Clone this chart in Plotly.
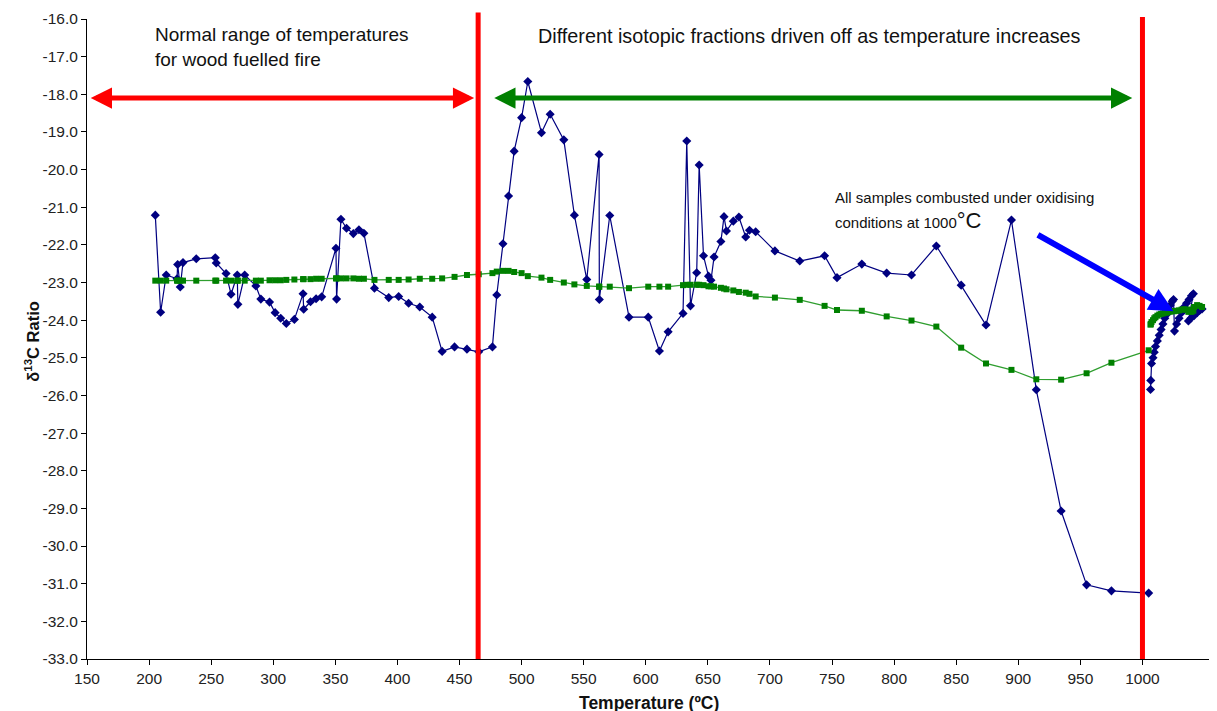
import plotly.graph_objects as go

# ---------------- data ----------------
temperature = [205.0, 209.3, 213.8, 222.5, 223.0, 225.1, 227.3, 238.0, 253.3, 254.1,
               262.0, 266.0, 271.0, 271.5, 277.0, 286.0, 290.0, 297.0, 301.5, 306.0,
               310.5, 317.0, 324.0, 324.5, 330.0, 334.5, 339.0, 350.5, 351.0, 354.5,
               359.0, 364.5, 369.0, 373.0, 381.5, 393.0, 401.0, 409.0, 418.0, 428.0,
               436.0, 446.0, 456.0, 465.5, 476.5, 480.0, 485.0, 489.5, 494.0, 500.0,
               505.0, 516.0, 523.0, 534.0, 542.5, 552.5, 562.4, 562.6, 571.0, 586.5,
               602.0, 611.0, 618.0, 630.0, 633.0, 636.0, 641.0, 643.0, 646.5, 650.5,
               652.5, 655.0, 660.5, 663.0, 665.0, 670.5, 675.0, 680.5, 683.5, 688.5,
               704.0, 724.0, 744.0, 754.0, 774.0, 794.0, 814.0, 834.0, 854.0, 874.0,
               894.5, 914.5, 934.5, 955.0, 975.0, 1005.0]

d13c_sample = [-21.21, -23.79, -22.80, -22.90, -22.52, -23.12, -22.47, -22.37, -22.34, -22.48,
               -22.76, -23.31, -22.80, -23.58, -22.80, -23.09, -23.44, -23.52, -23.80, -23.95,
               -24.09, -23.98, -23.30, -23.71, -23.51, -23.43, -23.38, -22.09, -23.44, -21.32,
               -21.56, -21.70, -21.60, -21.69, -23.15, -23.40, -23.37, -23.55, -23.65, -23.92,
               -24.83, -24.71, -24.77, -24.84, -24.71, -23.33, -21.97, -20.70, -19.51, -18.62,
               -17.66, -19.02, -18.53, -19.21, -21.21, -22.92, -19.60, -23.45, -21.22, -23.92,
               -23.92, -24.82, -24.31, -23.82, -19.24, -23.62, -22.74, -19.88, -22.29, -22.83,
               -22.94, -22.32, -21.91, -21.25, -21.63, -21.37, -21.26, -21.79, -21.61, -21.65,
               -22.16, -22.43, -22.29, -22.87, -22.51, -22.75, -22.80, -22.03, -23.07, -24.13,
               -21.34, -25.85, -29.07, -31.03, -31.19, -31.25]

d13c_mean = [-22.95, -22.95, -22.95, -22.95, -22.95, -22.95, -22.95, -22.95, -22.95, -22.95,
             -22.95, -22.95, -22.95, -22.95, -22.95, -22.95, -22.95, -22.94, -22.94, -22.94,
             -22.93, -22.92, -22.91, -22.91, -22.91, -22.90, -22.90, -22.89, -22.89, -22.89,
             -22.89, -22.89, -22.90, -22.90, -22.93, -22.93, -22.93, -22.92, -22.90, -22.90,
             -22.89, -22.85, -22.80, -22.78, -22.75, -22.71, -22.69, -22.69, -22.72, -22.75,
             -22.83, -22.87, -22.93, -23.00, -23.05, -23.09, -23.11, -23.11, -23.11, -23.15,
             -23.11, -23.11, -23.11, -23.07, -23.06, -23.06, -23.06, -23.06, -23.07, -23.10,
             -23.10, -23.11, -23.14, -23.16, -23.18, -23.21, -23.25, -23.27, -23.30, -23.37,
             -23.40, -23.46, -23.62, -23.73, -23.75, -23.90, -24.01, -24.17, -24.73, -25.15,
             -25.32, -25.57, -25.58, -25.41, -25.13, -24.80]

# samples combusted at 1000 degC (cluster right of the 1000 line)
temperature_1000 = [1006.5, 1006.7, 1007.3, 1008.5, 1009.5, 1010.5, 1012.0, 1013.5, 1015.0, 1016.5,
                    1018.0, 1019.5, 1021.0, 1022.5, 1024.0, 1025.0, 1025.8, 1027.5, 1029.5, 1031.5,
                    1033.5, 1035.5, 1037.5, 1039.5, 1041.0, 1037.0, 1039.0, 1041.5, 1044.0, 1046.0,
                    1048.0]
d13c_sample_1000 = [-25.84, -25.60, -25.15, -25.00, -24.85, -24.70, -24.55, -24.40, -24.25, -24.10,
                    -23.95, -23.85, -23.70, -23.60, -23.50, -23.45, -24.29, -24.10, -23.95, -23.80,
                    -23.65, -23.55, -23.45, -23.35, -23.30, -24.02, -23.95, -23.88, -23.80, -23.74,
                    -23.70]
d13c_mean_1000 = [-24.12, -24.10, -24.05, -24.00, -23.95, -23.92, -23.88, -23.85, -23.83, -23.82,
                  -23.80, -23.80, -23.78, -23.77, -23.76, -23.76, -23.76, -23.75, -23.74, -23.72,
                  -23.71, -23.72, -23.75, -23.78, -23.75, -23.78, -23.72, -23.65, -23.60, -23.62,
                  -23.65]

x_ticks = [150, 200, 250, 300, 350, 400, 450, 500, 550, 600, 650, 700, 750, 800, 850, 900, 950, 1000]
y_ticks = [-16, -17, -18, -19, -20, -21, -22, -23, -24, -25, -26, -27, -28, -29, -30, -31, -32, -33]
y_tick_labels = [f"{v:.1f}" for v in y_ticks]   # plain hyphen-minus, as in the reference

# ---------------- figure ----------------
NAVY = "#000080"
GREEN = "#008000"
GREEN_LINE = "#2f9e2f"
RED = "#ff0000"
FONT = "Liberation Sans, Arial, sans-serif"
TXT = "#111111"

fig = go.Figure()

fig.add_trace(go.Scatter(
    x=temperature + [None] + temperature_1000,
    y=d13c_sample + [None] + d13c_sample_1000,
    mode="lines+markers",
    line=dict(color=NAVY, width=1.2),
    marker=dict(symbol="diamond", size=7, color=NAVY),
    showlegend=False, hoverinfo="x+y"))

fig.add_trace(go.Scatter(
    x=temperature + [None] + temperature_1000,
    y=d13c_mean + [None] + d13c_mean_1000,
    mode="lines+markers",
    line=dict(color=GREEN_LINE, width=1.3),
    marker=dict(symbol="square", size=6, color=GREEN),
    showlegend=False, hoverinfo="x+y"))

# red vertical lines
fig.add_shape(type="line", xref="x", yref="paper", x0=465, x1=465, y0=0, y1=1.01,
              line=dict(color=RED, width=5), layer="above")
fig.add_shape(type="line", xref="x", yref="paper", x0=1000, x1=1000, y0=0, y1=1.003,
              line=dict(color=RED, width=5), layer="above")

# double arrows
fig.add_annotation(x=153, y=-18.1, ax=463, ay=-18.1, xref="x", yref="y", axref="x", ayref="y",
                   text="", showarrow=True, arrowhead=2, startarrowhead=2, arrowside="end+start",
                   arrowwidth=5, arrowsize=0.85, startarrowsize=0.85, arrowcolor=RED)
fig.add_annotation(x=478, y=-18.1, ax=993, ay=-18.1, xref="x", yref="y", axref="x", ayref="y",
                   text="", showarrow=True, arrowhead=2, startarrowhead=2, arrowside="end+start",
                   arrowwidth=5, arrowsize=0.85, startarrowsize=0.85, arrowcolor=GREEN)
# blue arrow
fig.add_annotation(x=1025, y=-23.76, ax=914.6, ay=-21.71, xref="x", yref="y", axref="x", ayref="y",
                   text="", showarrow=True, arrowhead=2, arrowwidth=6, arrowsize=0.8,
                   arrowcolor="#0000ff")

# texts
fig.add_annotation(x=203, y=-16.08, xref="x", yref="y", xanchor="left", yanchor="top",
                   text="Normal range of temperatures<br>for wood fuelled fire", showarrow=False,
                   align="left", font=dict(family=FONT, size=19, color=TXT))
fig.add_annotation(x=511.5, y=-16.1, xref="x", yref="y", xanchor="left", yanchor="top",
                   text="Different isotopic fractions driven off as temperature increases",
                   showarrow=False, align="left", font=dict(family=FONT, size=19.8, color=TXT))
fig.add_annotation(x=751, y=-20.75, xref="x", yref="y", xanchor="left", yanchor="middle",
                   text="All samples combusted under oxidising",
                   showarrow=False, align="left", font=dict(family=FONT, size=15, color=TXT))
fig.add_annotation(x=751, y=-21.36, xref="x", yref="y", xanchor="left", yanchor="middle",
                   text="conditions at 1000<span style='font-size:22px'>°C</span>",
                   showarrow=False, align="left", font=dict(family=FONT, size=15, color=TXT))

# axis titles
fig.add_annotation(x=0.4996, y=-0.068, xref="paper", yref="paper", xanchor="center", yanchor="middle",
                   text="<b>Temperature (ºC)</b>", showarrow=False,
                   font=dict(family=FONT, size=17.5, color=TXT))
fig.add_annotation(x=-0.049, y=0.497, xref="paper", yref="paper", xanchor="center", yanchor="middle",
                   text="<b>δ<sup>13</sup>C Ratio</b>", showarrow=False, textangle=-90,
                   font=dict(family=FONT, size=16.5, color=TXT))

fig.update_layout(
    width=1217, height=711,
    margin=dict(l=79, r=13, t=11, b=60, autoexpand=False),
    paper_bgcolor="white", plot_bgcolor="white",
    font=dict(family=FONT, size=14, color="#222222"),
    xaxis=dict(range=[150, 1056], tickvals=x_ticks, ticks="outside", ticklen=5,
               tickcolor="black", showline=True, linecolor="black", linewidth=1,
               showgrid=False, zeroline=False, automargin=False,
               tickfont=dict(family=FONT, size=15.5, color="#222222")),
    yaxis=dict(range=[-33, -16], tickvals=y_ticks, ticktext=y_tick_labels, ticks="outside", ticklen=5,
               tickcolor="black", showline=True, linecolor="black", linewidth=1,
               showgrid=False, zeroline=False, automargin=False,
               tickfont=dict(family=FONT, size=15.5, color="#222222")),
)

fig.write_html("out.html")
